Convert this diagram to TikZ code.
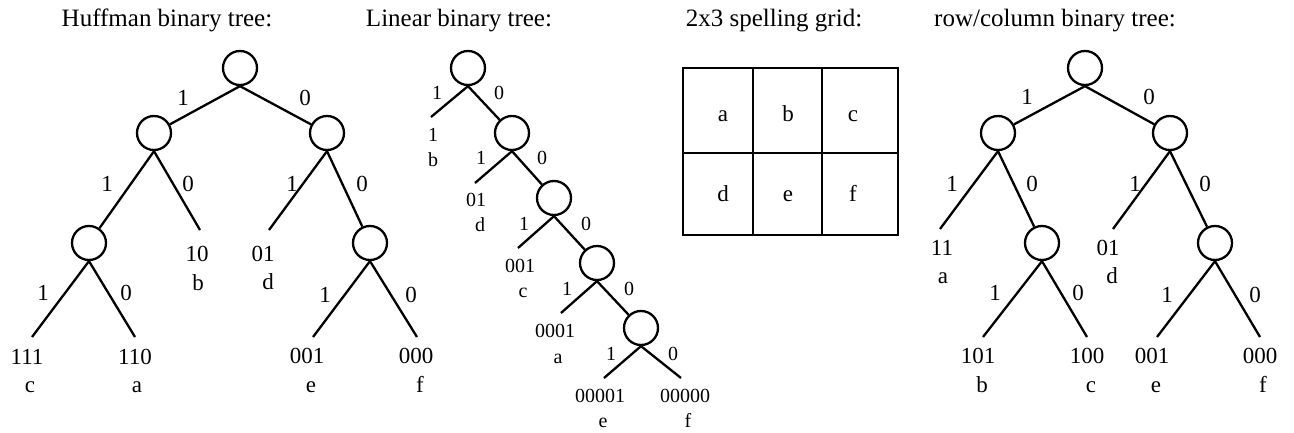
\documentclass[tikz,border=0pt]{standalone}
\usepackage{fontspec}
\setmainfont{Liberation Serif}
\begin{document}
\begin{tikzpicture}[x=1pt,y=-1pt,
  ttl/.style={anchor=base,inner sep=0pt,font=\fontsize{25}{30}\selectfont},
  lbl/.style={anchor=base,inner sep=0pt,font=\fontsize{23}{27}\selectfont},
  slbl/.style={anchor=base,inner sep=0pt,font=\fontsize{20}{24}\selectfont},
  circ/.style={circle,draw,line width=2.3pt,minimum size=34pt,inner sep=0pt},
  edge/.style={line width=2.3pt},
  gridline/.style={line width=2.3pt}]
\useasboundingbox (0,0) rectangle (1294,433);
% titles
\node[ttl] (t1) at (167,27) {Huffman binary tree:};
\node[ttl] (t2) at (459,27) {Linear binary tree:};
\node[ttl] (t3) at (774,27) {2x3 spelling grid:};
\node[ttl] (t4) at (1055,27) {row/column binary tree:};

% ---------- Huffman tree ----------
\node[circ] (hr) at (240,68) {};
\node[circ] (hl) at (154,133) {};
\node[circ] (hrr) at (327,133) {};
\node[circ] (hll) at (89,243) {};
\node[circ] (hrrr) at (370,243) {};
\coordinate (hlc0) at (200,230);
\coordinate (hrc1) at (269,230);
\coordinate (hll1) at (32,337);
\coordinate (hll0) at (135,337);
\coordinate (hrr1) at (313,337);
\coordinate (hrr0) at (417,337);
\draw[edge] (hr.south) -- (hl);
\draw[edge] (hr.south) -- (hrr);
\draw[edge] (hl.south) -- (hll);
\draw[edge] (hl.south) -- (hlc0);
\draw[edge] (hrr.south) -- (hrc1);
\draw[edge] (hrr.south) -- (hrrr);
\draw[edge] (hll.south) -- (hll1);
\draw[edge] (hll.south) -- (hll0);
\draw[edge] (hrrr.south) -- (hrr1);
\draw[edge] (hrrr.south) -- (hrr0);
\node[lbl] (he1) at (183,106) {1};
\node[lbl] (he2) at (305,106) {0};
\node[lbl] (he3) at (107,192) {1};
\node[lbl] (he4) at (188,192) {0};
\node[lbl] (he5) at (43,300) {1};
\node[lbl] (he6) at (126,300) {0};
\node[lbl] (he7) at (292,192) {1};
\node[lbl] (he8) at (362,192) {0};
\node[lbl] (he9) at (325,302) {1};
\node[lbl] (he10) at (411,302) {0};
\node[lbl] (hc1) at (27,364) {111};   \node[lbl] (hc2) at (30,392) {c};
\node[lbl] (ha1) at (135,364) {110};  \node[lbl] (ha2) at (137,392) {a};
\node[lbl] (hb1) at (197,261) {10};   \node[lbl] (hb2) at (198,290) {b};
\node[lbl] (hd1) at (263,261) {01};   \node[lbl] (hd2) at (268,289) {d};
\node[lbl] (hx1) at (307,363) {001};  \node[lbl] (hx2) at (311,392) {e};
\node[lbl] (hf1) at (416,363) {000};  \node[lbl] (hf2) at (420,392) {f};

% ---------- Linear tree ----------
\node[circ] (l1) at (468,68) {};
\node[circ] (l2) at (512,133) {};
\node[circ] (l3) at (554,198) {};
\node[circ] (l4) at (597,263) {};
\node[circ] (l5) at (641,328) {};
\coordinate (le1) at (431,117);
\coordinate (le2) at (475,183);
\coordinate (le3) at (518,248);
\coordinate (le4) at (561,313);
\coordinate (le5) at (604,378);
\coordinate (le6) at (681,378);
\draw[edge] (l1.south) -- (le1);
\draw[edge] (l1.south) -- (l2);
\draw[edge] (l2.south) -- (le2);
\draw[edge] (l2.south) -- (l3);
\draw[edge] (l3.south) -- (le3);
\draw[edge] (l3.south) -- (l4);
\draw[edge] (l4.south) -- (le4);
\draw[edge] (l4.south) -- (l5);
\draw[edge] (l5.south) -- (le5);
\draw[edge] (l5.south) -- (le6);
\node[slbl] (lo1) at (437,100) {1}; \node[slbl] (lz1) at (499,100) {0};
\node[slbl] (lo2) at (481,165) {1}; \node[slbl] (lz2) at (542,165) {0};
\node[slbl] (lo3) at (524,230) {1}; \node[slbl] (lz3) at (586,230) {0};
\node[slbl] (lo4) at (567,295) {1}; \node[slbl] (lz4) at (629,295) {0};
\node[slbl] (lo5) at (611,360) {1}; \node[slbl] (lz5) at (673,360) {0};
\node[slbl] (lb1) at (433,142) {1};     \node[slbl] (lb2) at (433,167) {b};
\node[slbl] (ld1) at (476,207) {01};    \node[slbl] (ld2) at (480,232) {d};
\node[slbl] (lc1) at (520,272) {001};   \node[slbl] (lc2) at (523,297) {c};
\node[slbl] (la1) at (555,337) {0001};  \node[slbl] (la2) at (558,363) {a};
\node[slbl] (lx1) at (600,402) {00001}; \node[slbl] (lx2) at (603,427) {e};
\node[slbl] (lf1) at (685,402) {00000}; \node[slbl] (lf2) at (688,427) {f};

% ---------- Grid ----------
\coordinate (g1) at (683,68);
\coordinate (g2) at (898,235);
\draw[gridline] (g1) rectangle (g2);
\draw[gridline] (683,153) -- (898,153);
\draw[gridline] (753,68) -- (753,235);
\draw[gridline] (822,68) -- (822,235);
\node[lbl] (ga) at (723,122) {a};
\node[lbl] (gb) at (788,122) {b};
\node[lbl] (gc) at (853,122) {c};
\node[lbl] (gd) at (723,202) {d};
\node[lbl] (ge) at (788,202) {e};
\node[lbl] (gf) at (853,202) {f};

% ---------- Row/column tree ----------
\node[circ] (rr) at (1085,68) {};
\node[circ] (rl) at (998,133) {};
\node[circ] (rrc) at (1170,133) {};
\node[circ] (rlr) at (1042,243) {};
\node[circ] (rrr) at (1215,243) {};
\coordinate (rle1) at (940,229);
\coordinate (rre1) at (1113,229);
\coordinate (rlr1) at (983,337);
\coordinate (rlr0) at (1087,337);
\coordinate (rrr1) at (1157,337);
\coordinate (rrr0) at (1260,337);
\draw[edge] (rr.south) -- (rl);
\draw[edge] (rr.south) -- (rrc);
\draw[edge] (rl.south) -- (rle1);
\draw[edge] (rl.south) -- (rlr);
\draw[edge] (rrc.south) -- (rre1);
\draw[edge] (rrc.south) -- (rrr);
\draw[edge] (rlr.south) -- (rlr1);
\draw[edge] (rlr.south) -- (rlr0);
\draw[edge] (rrr.south) -- (rrr1);
\draw[edge] (rrr.south) -- (rrr0);
\node[lbl] (re1) at (1027,105) {1};  \node[lbl] (re2) at (1149,105) {0};
\node[lbl] (re3) at (952,192) {1};   \node[lbl] (re4) at (1032,192) {0};
\node[lbl] (re5) at (1135,192) {1};  \node[lbl] (re6) at (1205,192) {0};
\node[lbl] (re7) at (995,300) {1};   \node[lbl] (re8) at (1078,300) {0};
\node[lbl] (re9) at (1167,302) {1};  \node[lbl] (re10) at (1255,302) {0};
\node[lbl] (ra1) at (942,255) {11};   \node[lbl] (ra2) at (943,283) {a};
\node[lbl] (rd1) at (1108,255) {01};  \node[lbl] (rd2) at (1112,283) {d};
\node[lbl] (rb1) at (978,363) {101};  \node[lbl] (rb2) at (982,392) {b};
\node[lbl] (rc1) at (1087,363) {100}; \node[lbl] (rc2) at (1091,392) {c};
\node[lbl] (rx1) at (1152,363) {001}; \node[lbl] (rx2) at (1156,392) {e};
\node[lbl] (rf1) at (1260,363) {000}; \node[lbl] (rf2) at (1263,392) {f};
\end{tikzpicture}
\end{document}
